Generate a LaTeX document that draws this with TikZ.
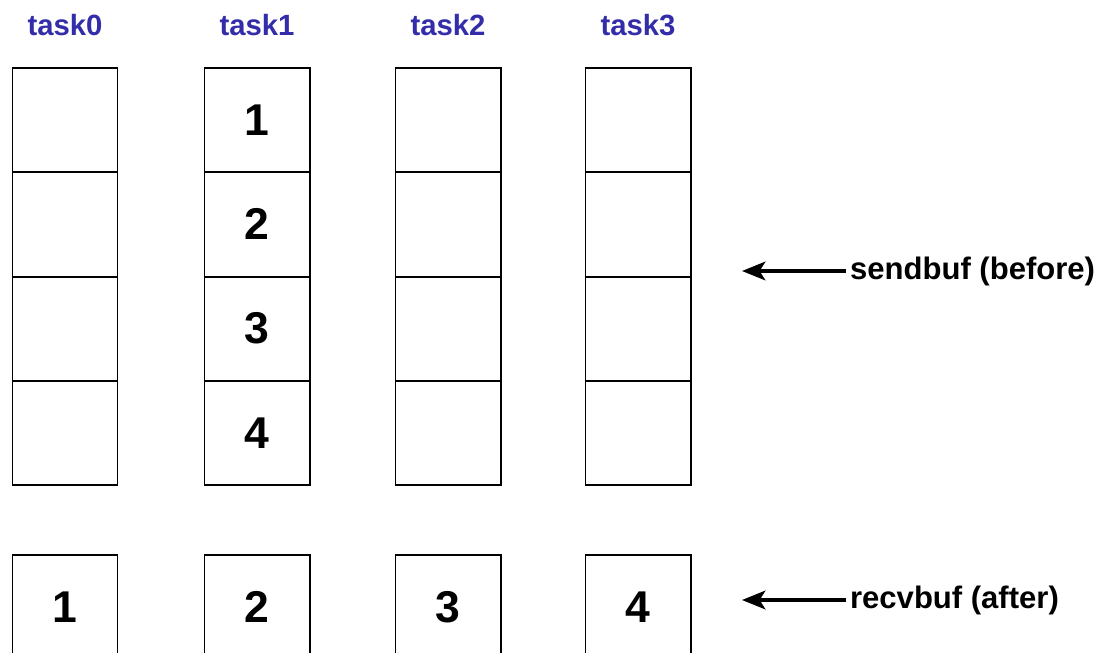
\documentclass[tikz,border=0pt]{standalone}
\usepackage{fontspec}
\setmainfont{Liberation Sans}
\usetikzlibrary{positioning, arrows.meta}
\definecolor{taskblue}{RGB}{51,45,170}

\begin{document}
\begin{tikzpicture}[
  x=0.03cm, y=-0.03cm,
  cell/.style={draw=black, line width=1.7pt, minimum width=3.15cm, minimum height=3.13cm,
    inner sep=0pt, outer sep=0pt, font=\fontsize{38}{40}\selectfont\bfseries},
  tasklabel/.style={text=taskblue, font=\fontsize{25}{27}\selectfont\bfseries},
  buflabel/.style={anchor=west, font=\fontsize{26.5}{28}\selectfont\bfseries},
  bufarrow/.style={-{Stealth[length=20pt, width=16pt, inset=5pt]}, line width=2.6pt},
]
\useasboundingbox (0,0) rectangle (1107,653);

% sendbuf columns with no data
\foreach \col/\x in {0/65, 2/448, 3/638} {
  \node[tasklabel] (task\col) at (\x,25) {task\col};
  \node[cell] (send\col a) at (\x,120) {};
  \node[cell, below=0pt of send\col a] (send\col b) {};
  \node[cell, below=0pt of send\col b] (send\col c) {};
  \node[cell, below=0pt of send\col c] (send\col d) {};
}

% task1 holds the data
\node[tasklabel] (task1) at (257,25) {task1};
\node[cell] (send1a) at (257,120) {1};
\node[cell, below=0pt of send1a] (send1b) {2};
\node[cell, below=0pt of send1b] (send1c) {3};
\node[cell, below=0pt of send1c] (send1d) {4};

% recvbuf after the scatter
\foreach \col/\x/\val in {0/65/1, 1/257/2, 2/448/3, 3/638/4} {
  \node[cell] (recv\col) at (\x,607) {\val};
}

\coordinate (sendtip) at (742,271);
\coordinate (recvtip) at (742,600);
\node[buflabel] (sendbuf) at (846,271) {sendbuf (before)};
\node[buflabel] (recvbuf) at (846,600) {recvbuf (after)};
\draw[bufarrow] (sendbuf.west) -- (sendtip);
\draw[bufarrow] (recvbuf.west) -- (recvtip);
\end{tikzpicture}
\end{document}
